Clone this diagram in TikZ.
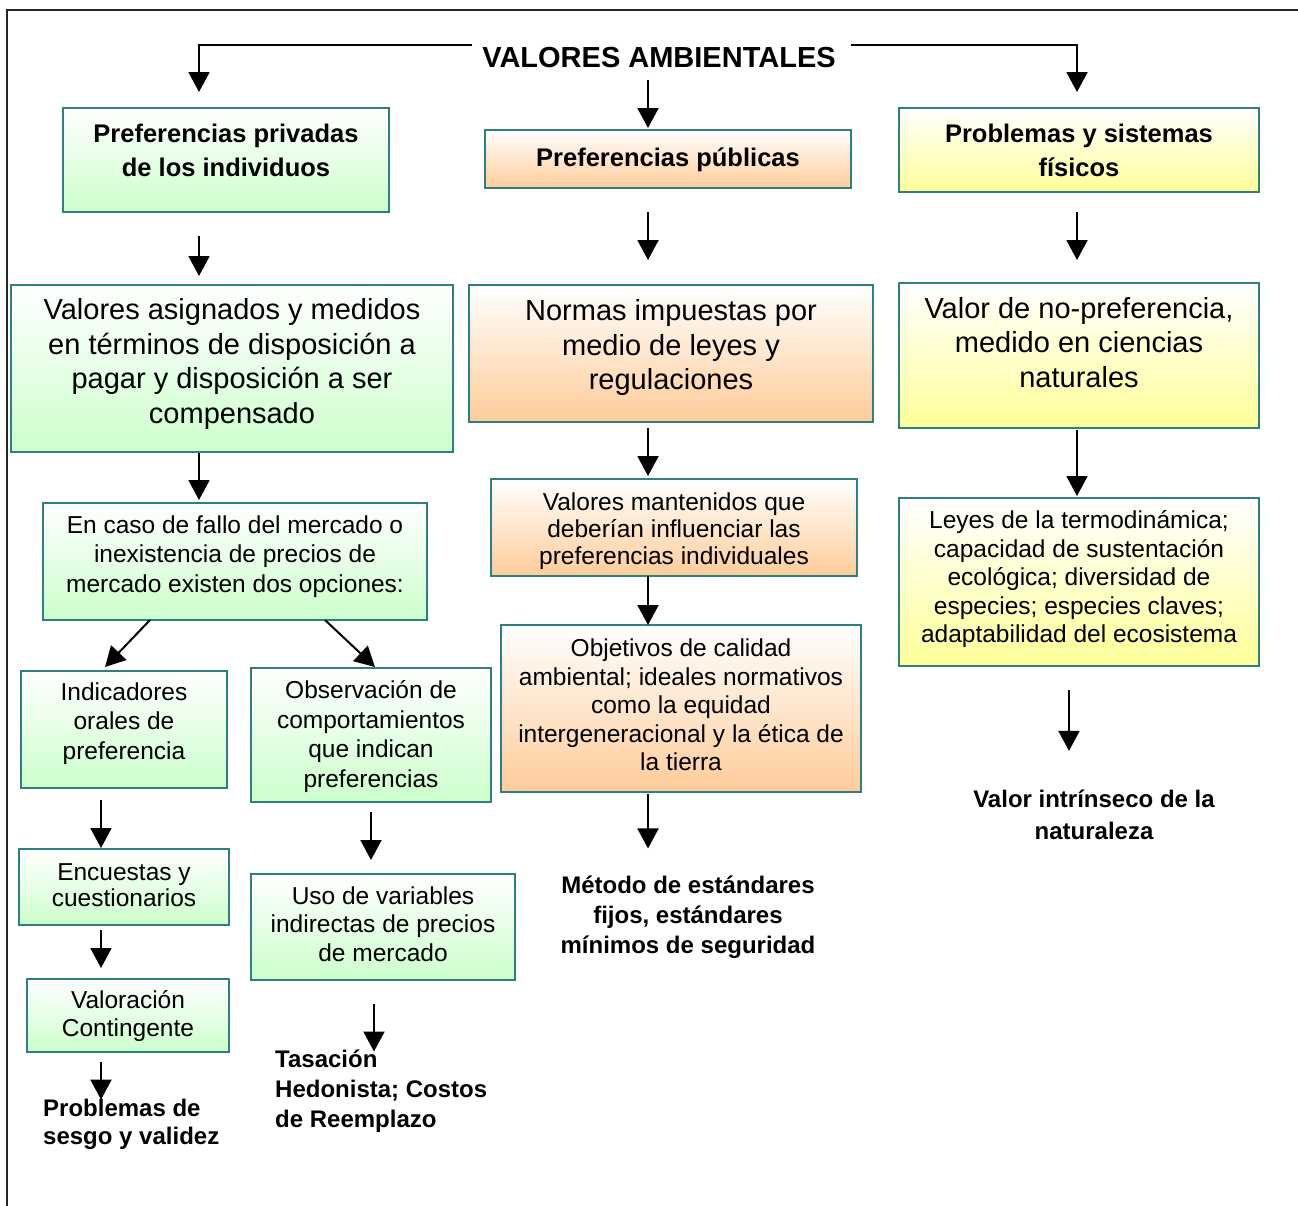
\documentclass[tikz,border=0pt]{standalone}
\usepackage{fontspec}
\setmainfont{Liberation Sans}
\usetikzlibrary{arrows.meta,calc}
\definecolor{bord}{RGB}{45,128,128}
\definecolor{gfill}{RGB}{204,255,204}
\definecolor{ofill}{RGB}{255,204,153}
\definecolor{yfill}{RGB}{255,255,153}
\newcommand\bxt[4]{\parbox[c][#1pt][c]{#2pt}{\centering #4\par\vspace*{#3pt}}}
\tikzset{
 boxbase/.style={rectangle, draw=bord, line width=2pt, inner sep=0pt, outer sep=0pt},
 gbox/.style={boxbase, top color=white, bottom color=gfill},
 obox/.style={boxbase, top color=white, bottom color=ofill},
 ybox/.style={boxbase, top color=white, bottom color=yfill},
 bigf/.style={font=\fontsize{29}{34.5}\selectfont},
 medf/.style={font=\fontsize{24.5}{28.5}\selectfont},
 medg/.style={font=\fontsize{24.5}{29.5}\selectfont},
 boldf/.style={font=\fontsize{25.5}{34}\selectfont\bfseries},
 ftext/.style={inner sep=0pt, font=\fontsize{24}{#1}\selectfont\bfseries},
 arr/.style={draw=black, line width=2pt, -{Triangle[width=21pt,length=20pt]}},
}
\begin{document}
\begin{tikzpicture}[x=1pt,y=-1pt]
\useasboundingbox (0,0) rectangle (1298,1205);
\fill[white] (0,0) rectangle (1298,1205);
\draw[line width=2.5pt, black!85] (7,1220) |- (1320,10);

\coordinate (c1) at (199,0);
\coordinate (c2) at (648,0);
\coordinate (c3) at (1077,0);
\coordinate (c4) at (101,0);
\coordinate (c5) at (371,0);
\coordinate (c6) at (374,0);
\coordinate (c7) at (1069,0);

\node[font=\fontsize{29}{34}\selectfont\bfseries, inner xsep=10pt, inner ysep=2pt] (title) at (659,57.5) {VALORES AMBIENTALES};

\node[gbox,boldf] (pp) at (226,160) {\bxt{104}{326}{15}{\strut Preferencias privadas\\ de los individuos\strut}};
\node[obox,boldf] (pub) at (668,159) {\bxt{58}{366}{-2}{\strut Preferencias públicas\strut}};
\node[ybox,boldf] (pf) at (1079,150) {\bxt{84}{360}{-5}{\strut Problemas y sistemas\\ físicos\strut}};

\node[gbox,bigf] (va) at (232,368.5) {\bxt{167}{442}{8}{\strut Valores asignados y medidos\\ en términos de disposición a\\ pagar y disposición a ser\\ compensado\strut}};
\node[obox,bigf] (nor) at (671,353.5) {\bxt{137}{404}{10}{\strut Normas impuestas por\\ medio de leyes y\\ regulaciones\strut}};
\node[ybox,bigf] (vnp) at (1079,355.5) {\bxt{145}{360}{19}{\strut Valor de no-preferencia,\\ medido en ciencias\\ naturales\strut}};

\node[gbox,medg] (fallo) at (235,561.5) {\bxt{117}{384}{9}{\strut En caso de fallo del mercado o\\ inexistencia de precios de\\ mercado existen dos opciones:\strut}};
\node[obox,font=\fontsize{24.5}{27}\selectfont] (vm) at (674,527.5) {\bxt{97}{366}{-10}{\strut Valores mantenidos que\\ deberían influenciar las\\ preferencias individuales\strut}};
\node[obox,medf] (obj) at (681,708.5) {\bxt{167}{360}{1}{\strut Objetivos de calidad\\ ambiental; ideales normativos\\ como la equidad\\ intergeneracional y la ética de\\ la tierra\strut}};
\node[ybox,medf] (leyes) at (1079,582) {\bxt{168}{360}{4}{\strut Leyes de la termodinámica;\\ capacidad de sustentación\\ ecológica; diversidad de\\ especies; especies claves;\\ adaptabilidad del ecosistema\strut}};

\node[gbox,medg] (ind) at (124,729.5) {\bxt{117}{206}{11}{\strut Indicadores\\ orales de\\ preferencia\strut}};
\node[gbox,medg] (obs) at (371,735) {\bxt{134}{240}{-4}{\strut Observación de\\ comportamientos\\ que indican\\ preferencias\strut}};
\node[gbox,font=\fontsize{24.5}{26}\selectfont] (enc) at (124,887) {\bxt{76}{210}{-2}{\strut Encuestas y\\ cuestionarios\strut}};
\node[gbox,medf] (uso) at (383,927) {\bxt{106}{264}{0}{\strut Uso de variables\\ indirectas de precios\\ de mercado\strut}};
\node[gbox,medf] (val) at (128,1015.5) {\bxt{73}{202}{-3}{\strut Valoración\\ Contingente\strut}};

\node[ftext=28, align=left, anchor=west] (sesgo) at (43,1124) {Problemas de\\ sesgo y validez};
\node[ftext=30, align=left, anchor=west] (tas) at (275,1091) {Tasación\\ Hedonista; Costos\\ de Reemplazo};
\node[ftext=30, align=center] (met) at (688,917) {Método de estándares\\ fijos, estándares\\ mínimos de seguridad};
\node[ftext=32, align=center] (vi) at (1094,815) {Valor intrínseco de la\\ naturaleza};

\draw[arr] ([yshift=12.5pt]title.west) -| ([yshift=16pt]pp.north -| c1);
\draw[arr] ([xshift=5pt,yshift=12.5pt]title.east) -| ([yshift=16pt]pf.north -| c3);
\draw[arr, shorten <=10pt, shorten >=2pt] (title.south -| c2) -- (pub.north -| c2);

\draw[arr, shorten <=24pt, shorten >=9pt] (pp.south -| c1) -- (va.north -| c1);
\draw[arr, shorten <=24pt, shorten >=25pt] (pub.south -| c2) -- (nor.north -| c2);
\draw[arr, shorten <=20pt, shorten >=23pt] (pf.south -| c3) -- (vnp.north -| c3);
\draw[arr, shorten <=1pt, shorten >=3pt] (va.south -| c1) -- (fallo.north -| c1);
\draw[arr, shorten <=6pt, shorten >=3pt] (nor.south -| c2) -- (vm.north -| c2);
\draw[arr, shorten <=2pt, shorten >=2pt] (vnp.south -| c3) -- (leyes.north -| c3);
\draw[arr] (vm.south -| c2) -- (obj.north -| c2);
\draw[arr] ($(fallo.south west)+(107,0)$) -- ($(ind.north west)+(84,-4)$);
\draw[arr] ($(fallo.south west)+(282,0)$) -- ($(obs.north west)+(124,-1)$);
\draw[arr, shorten <=12pt, shorten >=1pt] (ind.south -| c4) -- (enc.north -| c4);
\draw[arr, shorten <=5pt, shorten >=11pt] (enc.south -| c4) -- (val.north -| c4);
\draw[arr, shorten <=10pt, shorten >=-1pt] (val.south -| c4) -- (sesgo.north -| c4);
\draw[arr, shorten <=10pt, shorten >=14pt] (obs.south -| c5) -- (uso.north -| c5);
\draw[arr, shorten <=24pt, shorten >=-2pt] (uso.south -| c6) -- (tas.north -| c6);
\draw[arr, shorten <=2pt, shorten >=27pt] (obj.south -| c2) -- (met.north -| c2);
\draw[arr, shorten <=24pt, shorten >=39pt] (leyes.south -| c7) -- (vi.north -| c7);
\end{tikzpicture}
\end{document}
